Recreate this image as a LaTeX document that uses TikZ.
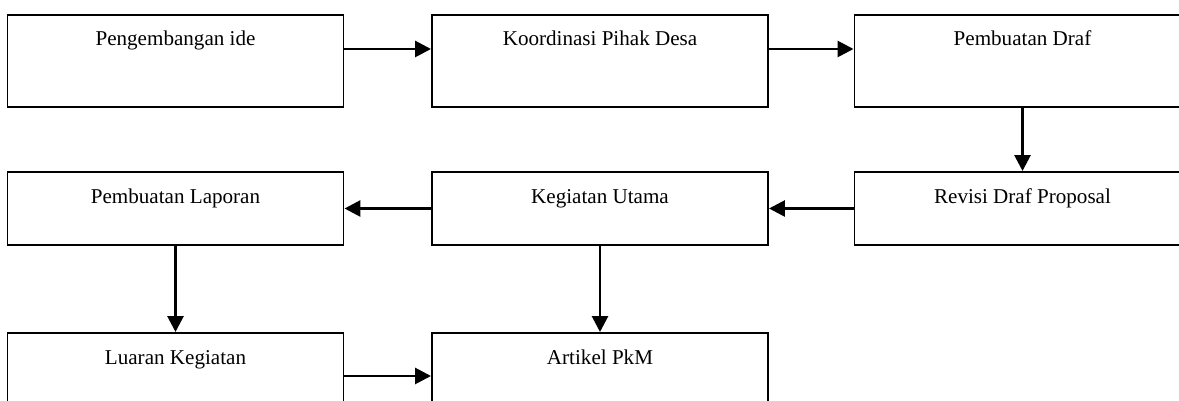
\documentclass[tikz,border=0pt]{standalone}
\usepackage{fontspec}
\setmainfont{Liberation Serif}
\usetikzlibrary{arrows.meta}

\begin{document}
\begin{tikzpicture}[
    font=\fontsize{15}{18}\selectfont,
    box/.style={draw,line width=1.4pt,minimum width=8.4cm,inner xsep=0pt,inner ysep=0pt},
    tallbox/.style={box,text height=0.775cm,text depth=1.525cm},
    midbox/.style={box,text height=0.8cm,text depth=1.025cm},
    lowbox/.style={box,text height=0.8cm,text depth=1.35cm},
    arr/.style={line width=2pt,-{Triangle[length=0.4cm,width=0.4cm]}}]
  \useasboundingbox (0,0) rectangle (29.475,10.025);
  \clip (0,0) rectangle (29.475,10.025);
  % First row
  \node[tallbox] (ide)  at (4.3875,8.5)  {Pengembangan ide};
  \node[tallbox] (desa) at (15,8.5)      {Koordinasi Pihak Desa};
  \node[tallbox] (draf) at (25.5625,8.5) {Pembuatan Draf};
  % Second row
  \node[midbox]  (lap)  at (4.3875,4.8125)  {Pembuatan Laporan};
  \node[midbox]  (keg)  at (15,4.8125)      {Kegiatan Utama};
  \node[midbox]  (rev)  at (25.5625,4.8125) {Revisi Draf Proposal};
  % Third row
  \node[lowbox]  (luar) at (4.3875,0.625) {Luaran Kegiatan};
  \node[lowbox]  (art)  at (15,0.625)     {Artikel PkM};
  % Arrows
  \draw[arr] ([yshift=.3cm]ide.east) -- ([yshift=.3cm]desa.west);
  \draw[arr] ([yshift=.3cm]desa.east) -- ([yshift=.3cm]draf.west);
  \draw[arr] (draf) -- (rev);
  \draw[arr] (rev) -- (keg);
  \draw[arr] (keg) -- (lap);
  \draw[arr] (lap) -- (luar);
  \draw[arr] (keg) -- (art);
  \draw[arr] (luar) -- (art);
\end{tikzpicture}
\end{document}
